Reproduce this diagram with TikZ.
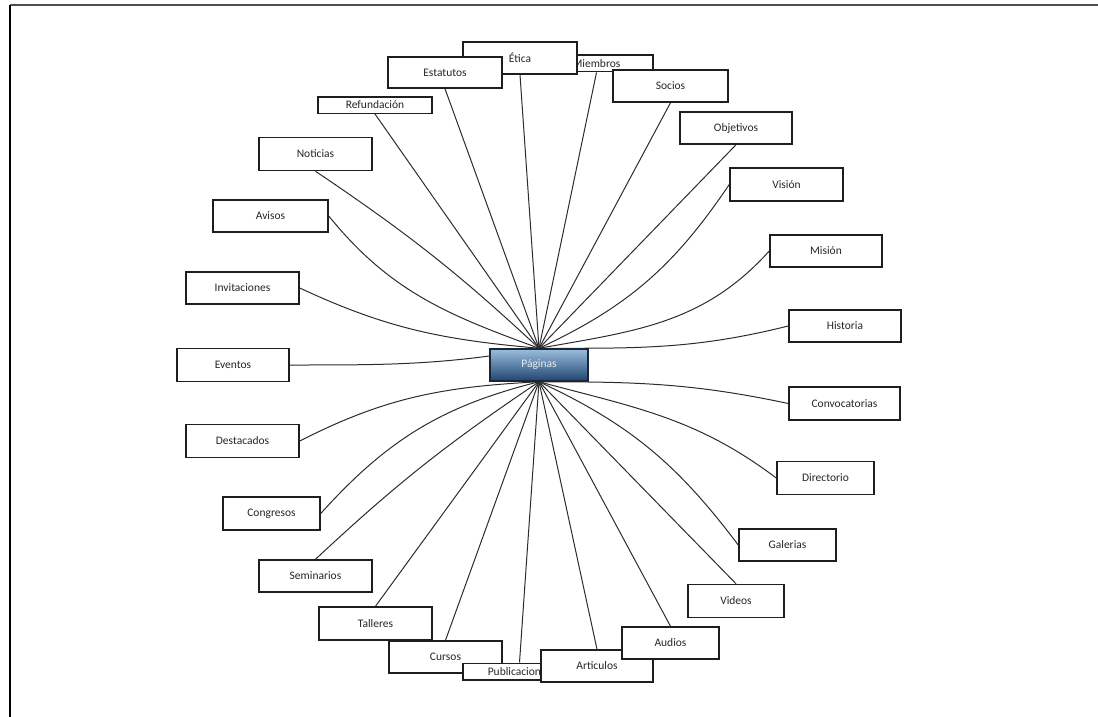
\documentclass[tikz,border=0pt]{standalone}
\usepackage{fontspec}
\setmainfont{Carlito}
\usetikzlibrary{backgrounds}
\definecolor{linec}{HTML}{2C2C2C}
\definecolor{boxline}{HTML}{1E1E1E}
\definecolor{txtc}{HTML}{262626}
\definecolor{ptop}{HTML}{9CBEDD}
\definecolor{pbot}{HTML}{1F4470}
\definecolor{pborder}{HTML}{1A2538}
\definecolor{pagtext}{HTML}{E6EDF4}
\definecolor{framegray}{HTML}{505050}
\begin{document}
\begin{tikzpicture}[x=1pt,y=-1pt,
  leaf/.style={draw=boxline, line width=1.5pt, fill=white, inner sep=0pt,
    font=\fontsize{11.5}{13}\selectfont, text=txtc,
    minimum width=113pt, minimum height=32pt},
  thin/.style={minimum height=16.5pt},
  narrow/.style={minimum width=97pt},
  conn/.style={draw=linec, line width=1pt},
  pagbox/.style={draw=pborder, line width=1.5pt, top color=ptop, bottom color=pbot,
    inner sep=0pt, minimum width=98pt, minimum height=32pt,
    font=\fontsize{11.5}{13}\selectfont, text=pagtext}
  ]
\useasboundingbox (0,0) rectangle (1098,717);
\draw[line width=1.6pt, color=framegray] (10,5) -- (1098,5);
\draw[line width=1.4pt, color=black] (10,5) -- (10,717);

% centre
\node[pagbox] (pag) at (539,365) {Páginas};

% upper nodes (stacking order matters)
\node[leaf, thin] (miemb) at (596.5,63.5) {Miembros};
\node[leaf, minimum width=114pt] (etica) at (520,58) {Ética};
\node[leaf, minimum width=114pt, minimum height=31pt] (estat) at (445,72.5) {Estatutos};
\node[leaf, minimum width=115pt] (socios) at (670.5,86) {Socios};
\node[leaf, thin, minimum width=114pt] (refund) at (375,105) {Refundación};
\node[leaf, minimum height=33pt] (notic) at (315.5,154) {Noticias};
\node[leaf, minimum width=115pt] (avisos) at (270.5,216) {Avisos};
\node[leaf] (invit) at (242.5,288) {Invitaciones};
\node[leaf, minimum width=112pt, minimum height=33pt] (event) at (233,365) {Eventos};
\node[leaf, minimum height=33pt] (destac) at (242.5,441) {Destacados};
\node[leaf, narrow, minimum height=33pt] (congr) at (271.5,513.5) {Congresos};
\node[leaf] (semin) at (315.5,576) {Seminarios};
\node[leaf, minimum height=33pt] (taller) at (375.5,623.5) {Talleres};
\node[leaf] (cursos) at (445.5,657) {Cursos};
\node[leaf, thin] (public) at (519.5,671.5) {Publicaciones};
\node[leaf, minimum width=112pt] (artic) at (597,666) {Articulos};
\node[leaf, narrow] (audios) at (670.5,643) {Audios};
\node[leaf, minimum width=96pt, minimum height=33pt] (videos) at (736,601) {Videos};
\node[leaf, narrow] (galer) at (787.5,545) {Galerias};
\node[leaf, narrow, minimum height=33pt] (direc) at (825.5,478) {Directorio};
\node[leaf, minimum width=111pt, minimum height=33pt] (convo) at (844.5,403.5) {Convocatorias};
\node[leaf, minimum width=112pt] (histo) at (845,326) {Historia};
\node[leaf, minimum width=112pt] (mision) at (826,251) {Misión};
\node[leaf, minimum height=33pt] (vision) at (786.5,184.5) {Visión};
\node[leaf, minimum width=112pt] (objet) at (736,128) {Objetivos};

\begin{scope}[on background layer]
\draw[conn] (refund.south) -- (pag.north);
\draw[conn] (estat.south) -- (pag.north);
\draw[conn] (etica.south) -- (pag.north);
\draw[conn] (miemb.south) -- (pag.north);
\draw[conn] (socios.south) -- (pag.north);
\draw[conn] (objet.south) -- (pag.north);
\draw[conn] (notic.south) to[out=-34,in=137] (pag.north);
\draw[conn] (avisos.east) to[out=-51,in=160] (pag.north);
\draw[conn] (invit.east) to[out=-25,in=175] (pag.north);
\draw[conn] (event.east) to[out=0,in=190] (pag.north);
\draw[conn] (vision.west) to[out=236,in=25] (pag.north);
\draw[conn] (mision.west) to[out=228,in=10] (pag.north);
\draw[conn] (histo.west) to[out=194,in=0] (pag.north);
\draw[conn] (convo.west) to[out=168,in=0] (pag.south);
\draw[conn] (direc.west) to[out=143,in=345] (pag.south);
\draw[conn] (galer.west) to[out=127,in=335] (pag.south);
\draw[conn] (videos.north) -- (pag.south);
\draw[conn] (audios.north) -- (pag.south);
\draw[conn] (artic.north) -- (pag.south);
\draw[conn] (public.north) -- (pag.south);
\draw[conn] (cursos.north) -- (pag.south);
\draw[conn] (taller.north) -- (pag.south);
\draw[conn] (semin.north) to[out=43,in=214] (pag.south);
\draw[conn] (congr.east) to[out=48,in=194] (pag.south);
\draw[conn] (destac.east) to[out=27,in=183] (pag.south);
\end{scope}
\end{tikzpicture}
\end{document}
